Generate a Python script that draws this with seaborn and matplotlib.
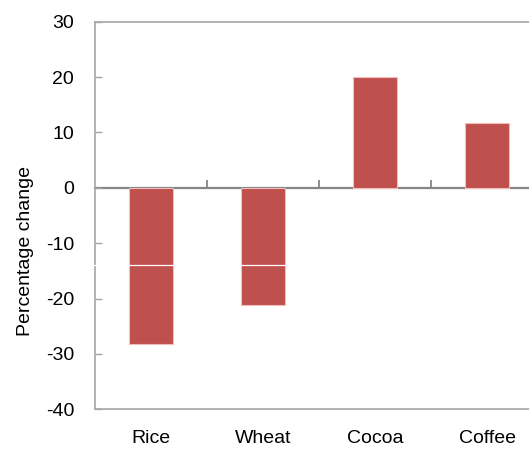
import matplotlib
matplotlib.use("Agg")
import matplotlib.pyplot as plt
import seaborn as sns
import pandas as pd

# Commodity price changes
commodities = ["Rice", "Wheat", "Cocoa", "Coffee"]
pct_change = [-28.2, -21.2, 20.0, 11.7]

y_ticks = [30, 20, 10, 0, -10, -20, -30, -40]
y_limits = (-40, 30)
split_level = -13.9  # thin white rule drawn across the plot

df = pd.DataFrame({"commodity": commodities, "change": pct_change})

sns.set_theme(style="white")
plt.rcParams["font.family"] = ["Liberation Sans", "DejaVu Sans"]

fig = plt.figure(figsize=(5.29, 4.49), dpi=100)
ax = fig.add_axes([95 / 529, 1 - 409.3 / 449, 448 / 529, 387.6 / 449])

bar_red = "#C0504D"
sns.barplot(data=df, x="commodity", y="change", order=commodities,
            color=bar_red, width=0.4, edgecolor="#F2BDBB", linewidth=0.8,
            saturation=1, ax=ax, zorder=3)

ax.set_xlim(-0.5, 3.5)
ax.set_ylim(*y_limits)
ax.set_yticks(y_ticks)
ax.set_yticklabels([str(t) for t in y_ticks])

frame_grey = "#A6A6A6"
for side in ["left", "top", "right", "bottom"]:
    ax.spines[side].set_color(frame_grey)
    ax.spines[side].set_linewidth(1.2)

ax.tick_params(axis="y", direction="in", length=5, width=1.0, color=frame_grey,
               pad=15, labelsize=14, labelcolor="black", left=True)
ax.tick_params(axis="x", length=0, pad=15, labelsize=14, labelcolor="black")

ax.set_xlabel("")
ax.set_ylabel("Percentage change", fontsize=14, color="black")
ax.yaxis.set_label_coords(-0.136, 0.408)

# Category axis crossing at zero, with boundary ticks pointing up
axis_grey = "#868686"
zero_frac = (0 - y_limits[0]) / (y_limits[1] - y_limits[0])
sec = ax.secondary_xaxis(zero_frac)
sec.set_xticks([0.5, 1.5, 2.5, 3.5])
sec.set_xticklabels([])
sec.tick_params(direction="out", length=6, width=1.3, color=axis_grey)
for s in sec.spines.values():
    s.set_color(axis_grey)
    s.set_linewidth(1.6)

ax.axhline(split_level, color="white", lw=0.9, zorder=6, clip_on=False,
           xmin=-0.005, xmax=1)

fig.savefig("out.png", dpi=100)
